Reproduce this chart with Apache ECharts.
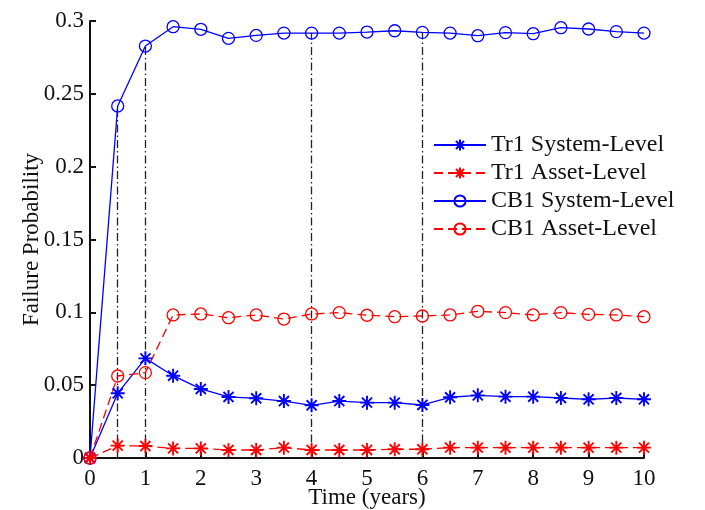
<!DOCTYPE html>
<html>
<head>
<meta charset="utf-8">
<script src="https://cdn.jsdelivr.net/npm/echarts@6/dist/echarts.min.js"></script>
<style>
html,body{margin:0;padding:0;background:#fff;}
#chart{width:705px;height:510px;}
</style>
</head>
<body>
<div id="chart"></div>
<script>
// Time (years)
var times = [0, 0.5, 1, 1.5, 2, 2.5, 3, 3.5, 4, 4.5, 5, 5.5, 6, 6.5, 7, 7.5, 8, 8.5, 9, 9.5, 10];
var tr1System = [0, 0.0444, 0.0684, 0.0565, 0.0474, 0.0419, 0.0410, 0.0391, 0.0362, 0.0391, 0.0380, 0.0380, 0.0364, 0.0417, 0.0430, 0.0421, 0.0421, 0.0412, 0.0403, 0.0412, 0.0403];
var tr1Asset = [0, 0.0085, 0.0082, 0.0066, 0.0066, 0.0055, 0.0055, 0.0071, 0.0055, 0.0055, 0.0055, 0.0060, 0.0060, 0.0071, 0.0071, 0.0071, 0.0071, 0.0071, 0.0071, 0.0071, 0.0071];
var cb1System = [0, 0.2417, 0.2828, 0.2961, 0.2943, 0.2881, 0.2901, 0.2917, 0.2917, 0.2917, 0.2924, 0.2933, 0.2922, 0.2917, 0.2899, 0.2920, 0.2913, 0.2954, 0.2945, 0.2927, 0.2917];
var cb1Asset = [0, 0.0563, 0.0586, 0.0982, 0.0989, 0.0963, 0.0982, 0.0954, 0.0989, 0.0998, 0.0980, 0.0970, 0.0975, 0.0982, 0.1007, 0.0998, 0.0982, 0.0998, 0.0986, 0.0982, 0.0970];
// Vertical reference lines (times)
var refTimes = [0.5, 1, 4, 6];
var seriesNames = ['Tr1 System-Level', 'Tr1 Asset-Level', 'CB1 System-Level', 'CB1 Asset-Level'];

function pairs(vals) { return times.map(function (t, i) { return [t, vals[i]]; }); }

var FONT = 'Liberation Serif';
var TXT = '#111';
var star = 'path://M0,-1L0,1M-1,0L1,0M-0.72,-0.72L0.72,0.72M-0.72,0.72L0.72,-0.72';

var refLines = refTimes.map(function (t) {
  var idx = times.indexOf(t);
  return [{ coord: [t, 0] }, { coord: [t, cb1System[idx]] }];
});

var chart = echarts.init(document.getElementById('chart'), null, { renderer: 'canvas' });
chart.setOption({
  animation: false,
  backgroundColor: '#fff',
  grid: { left: 90, right: 61, top: 21, bottom: 52, containLabel: false, outerBoundsMode: 'none' },
  legend: {
    orient: 'vertical',
    left: 433, top: 133,
    padding: 0,
    itemWidth: 52, itemHeight: 14, itemGap: 4,
    data: seriesNames,
    textStyle: { fontFamily: FONT, fontSize: 24, color: TXT, lineHeight: 24 },
    backgroundColor: 'rgba(255,255,255,0)'
  },
  xAxis: {
    type: 'value', min: 0, max: 10, interval: 1,
    name: 'Time (years)', nameLocation: 'middle', nameGap: 28, nameMoveOverlap: false,
    nameTextStyle: { fontFamily: FONT, fontSize: 23, color: TXT },
    axisLine: { show: true, onZero: false, lineStyle: { color: '#111', width: 2 } },
    axisTick: { show: true, inside: true, length: 6, lineStyle: { color: '#111', width: 2 } },
    axisLabel: { fontFamily: FONT, fontSize: 23, color: TXT, margin: 9 },
    splitLine: { show: false }
  },
  yAxis: {
    type: 'value', min: 0, max: 0.3, interval: 0.05,
    name: 'Failure Probability', nameLocation: 'middle', nameGap: 47, nameMoveOverlap: false,
    nameTextStyle: { fontFamily: FONT, fontSize: 23, color: TXT },
    axisLine: { show: true, lineStyle: { color: '#111', width: 2 } },
    axisTick: { show: true, inside: true, length: 6, lineStyle: { color: '#111', width: 2 } },
    axisLabel: { fontFamily: FONT, fontSize: 23, color: TXT, margin: 6 },
    splitLine: { show: false }
  },
  series: [
    {
      name: seriesNames[0], type: 'line', data: pairs(tr1System), z: 3,
      symbol: star, symbolSize: 14, showAllSymbol: true,
      lineStyle: { color: '#0000ff', width: 1.3, type: 'solid' },
      itemStyle: { color: '#0000ff', borderColor: '#0000ff', borderWidth: 1.9 },
      markLine: {
        silent: true, symbol: ['none', 'none'], z: 1,
        label: { show: false },
        lineStyle: { color: '#222', width: 1.3, type: [8, 3, 1.5, 3] },
        data: refLines
      }
    },
    {
      name: seriesNames[1], type: 'line', data: pairs(tr1Asset), z: 3,
      symbol: star, symbolSize: 14, showAllSymbol: true,
      lineStyle: { color: '#ff0000', width: 1.3, type: [9, 5] },
      itemStyle: { color: '#ff0000', borderColor: '#ff0000', borderWidth: 1.9 }
    },
    {
      name: seriesNames[2], type: 'line', data: pairs(cb1System), z: 3,
      symbol: 'circle', symbolSize: 12, showAllSymbol: true,
      lineStyle: { color: '#0000ff', width: 1.3, type: 'solid' },
      itemStyle: { color: 'rgba(0,0,0,0)', borderColor: '#0000ff', borderWidth: 1.3 }
    },
    {
      name: seriesNames[3], type: 'line', data: pairs(cb1Asset), z: 3,
      symbol: 'circle', symbolSize: 12, showAllSymbol: true,
      lineStyle: { color: '#ff0000', width: 1.3, type: [9, 5] },
      itemStyle: { color: 'rgba(0,0,0,0)', borderColor: '#ff0000', borderWidth: 1.3 }
    }
  ]
});
</script>
</body>
</html>
